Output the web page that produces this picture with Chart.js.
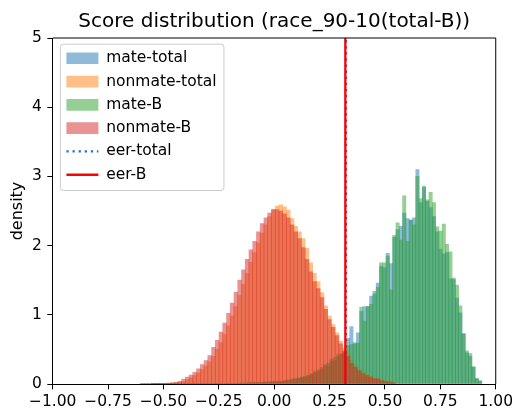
<!DOCTYPE html>
<html>
<head>
<meta charset="utf-8">
<script src="https://cdn.jsdelivr.net/npm/chart.js@4.4.1/dist/chart.umd.min.js"></script>
<style>
  body { margin: 0; background: #fff; }
</style>
</head>
<body>
<canvas id="hist" width="516" height="410"></canvas>
<script>
// HISTOGRAM BINS (left edge of first bin, bin width)
const mateStart = -0.553, mateBinW = 0.0149;
const nonmateStart = -0.604, nonmateBinW = 0.0169;

// densities, one value per bin
const mateTotal = [
  0.002, 0.002, 0.002, 0.002, 0.002, 0.002, 0.002, 0.002, 0.002, 0.002,
  0.003, 0.003, 0.003, 0.003, 0.003, 0.003, 0.004, 0.004, 0.004, 0.005,
  0.006, 0.006, 0.007, 0.009, 0.010, 0.011, 0.011, 0.012, 0.015, 0.015,
  0.017, 0.019, 0.021, 0.023, 0.027, 0.028, 0.031, 0.034, 0.03, 0.04,
  0.05, 0.05, 0.06, 0.07, 0.08, 0.09, 0.10, 0.12, 0.15, 0.19,
  0.18, 0.24, 0.28, 0.26, 0.36, 0.34, 0.43, 0.42, 0.47, 0.66,
  0.83, 0.58, 0.74, 1.05, 1.12, 1.12, 1.27, 1.34, 1.46, 1.70,
  1.68, 1.89, 1.74, 2.12, 2.23, 2.28, 2.47, 2.39, 2.37, 2.40,
  3.10, 2.62, 2.84, 2.64, 2.55, 2.42, 2.20, 1.95, 1.88, 1.90,
  1.52, 1.51, 1.24, 1.03, 0.73, 0.45, 0.40, 0.24, 0.08, 0.04
];
const mateB = [
  0.002, 0.002, 0.002, 0.002, 0.002, 0.002, 0.002, 0.002, 0.002, 0.002,
  0.004, 0.003, 0.004, 0.003, 0.004, 0.004, 0.004, 0.005, 0.004, 0.005,
  0.006, 0.007, 0.008, 0.008, 0.009, 0.010, 0.012, 0.013, 0.014, 0.016,
  0.018, 0.020, 0.022, 0.024, 0.026, 0.029, 0.032, 0.035, 0.04, 0.04,
  0.05, 0.06, 0.07, 0.08, 0.09, 0.10, 0.11, 0.12, 0.14, 0.17,
  0.20, 0.22, 0.26, 0.30, 0.33, 0.38, 0.40, 0.44, 0.45, 0.55,
  0.57, 0.60, 0.59, 1.11, 0.91, 1.12, 1.15, 1.30, 1.40, 1.75,
  1.75, 1.85, 1.36, 2.15, 2.33, 2.08, 2.72, 2.06, 2.37, 2.30,
  3.00, 2.68, 2.86, 2.66, 2.77, 2.62, 2.27, 2.21, 2.31, 2.02,
  1.91, 1.53, 1.43, 1.13, 0.72, 0.48, 0.44, 0.25, 0.08, 0.05
];
const nonmateTotal = [
  0.003, 0.003, 0.004, 0.005, 0.006, 0.007, 0.009, 0.011, 0.013, 0.016,
  0.025, 0.04, 0.06, 0.09, 0.12, 0.16, 0.21, 0.26, 0.32, 0.40,
  0.50, 0.60, 0.72, 0.84, 0.98, 1.12, 1.28, 1.44, 1.60, 1.76,
  1.90, 2.04, 2.18, 2.30, 2.42, 2.52, 2.57, 2.59, 2.56, 2.51,
  2.39, 2.28, 2.20, 2.10, 1.96, 1.75, 1.60, 1.48, 1.32, 1.13,
  0.98, 0.86, 0.74, 0.62, 0.52, 0.44, 0.34, 0.27, 0.21, 0.17,
  0.14, 0.11, 0.09, 0.08, 0.06, 0.05, 0.035, 0.025
];
const nonmateB = [
  0.004, 0.004, 0.005, 0.006, 0.008, 0.009, 0.011, 0.014, 0.018, 0.025,
  0.04, 0.07, 0.10, 0.13, 0.17, 0.22, 0.28, 0.34, 0.41, 0.53,
  0.63, 0.75, 0.88, 1.02, 1.17, 1.33, 1.50, 1.65, 1.80, 1.94,
  2.06, 2.20, 2.32, 2.40, 2.47, 2.52, 2.52, 2.50, 2.46, 2.40,
  2.30, 2.20, 2.10, 1.97, 1.80, 1.62, 1.48, 1.38, 1.25, 1.08,
  0.93, 0.82, 0.70, 0.58, 0.48, 0.40, 0.30, 0.24, 0.19, 0.15,
  0.12, 0.10, 0.08, 0.07, 0.05, 0.04, 0.03, 0.02
];

// equal error rate thresholds
const eerTotal = 0.324;
const eerB = 0.321;

function toBins(values, start, w) {
  return values.map((v, i) => ({ x: start + (i + 0.5) * w, y: v }));
}

function vline(x) {
  return [{ x: x, y: 0 }, { x: x, y: 5 }];
}

const FONT = "'DejaVu Sans', sans-serif";
Chart.defaults.font.family = FONT;
Chart.defaults.color = '#000';

// legend frame inside the axes + top/right spines
const framePlugin = {
  id: 'frame',
  afterLayout(chart) {
    const lg = chart.legend;
    const a = chart.chartArea;
    lg.left = a.left + 5.9;
    lg.top = a.top + 4.7;
    lg.right = lg.left + lg.width;
    lg.bottom = lg.top + lg.height;
  },
  beforeDraw(chart) {
    const boxes = chart.legend.legendHitBoxes;
    if (!boxes || !boxes.length) return;
    let l = Infinity, r = -Infinity;
    boxes.forEach(b => { l = Math.min(l, b.left); r = Math.max(r, b.left + b.width); });
    const t = boxes[0].top - 6.3;
    const last = boxes[boxes.length - 1];
    const bt = last.top + last.height + 8;
    const ctx = chart.ctx;
    ctx.save();
    ctx.beginPath();
    ctx.roundRect(l - 6, t, (r + 7.4) - (l - 6), bt - t, 3);
    ctx.fillStyle = 'rgba(255,255,255,0.8)';
    ctx.fill();
    ctx.strokeStyle = '#cccccc';
    ctx.lineWidth = 1;
    ctx.stroke();
    ctx.restore();
  },
  afterDatasetsDraw(chart) {
    const a = chart.chartArea;
    const ctx = chart.ctx;
    ctx.save();
    ctx.strokeStyle = '#000';
    ctx.lineWidth = 1;
    ctx.beginPath();
    ctx.moveTo(a.left, a.top);
    ctx.lineTo(a.right, a.top);
    ctx.lineTo(a.right, a.bottom);
    ctx.stroke();
    ctx.restore();
  }
};

new Chart(document.getElementById('hist'), {
  type: 'bar',
  data: {
    datasets: [
      {
        label: 'mate-total',
        data: toBins(mateTotal, mateStart, mateBinW),
        backgroundColor: 'rgba(31,119,180,0.5)',
        xAxisID: 'x',
        order: 5
      },
      {
        label: 'nonmate-total',
        data: toBins(nonmateTotal, nonmateStart, nonmateBinW),
        backgroundColor: 'rgba(255,127,14,0.5)',
        xAxisID: 'xn',
        order: 4
      },
      {
        label: 'mate-B',
        data: toBins(mateB, mateStart, mateBinW),
        backgroundColor: 'rgba(44,160,44,0.5)',
        xAxisID: 'x',
        order: 3
      },
      {
        label: 'nonmate-B',
        data: toBins(nonmateB, nonmateStart, nonmateBinW),
        backgroundColor: 'rgba(214,39,40,0.5)',
        xAxisID: 'xn',
        order: 2
      },
      {
        type: 'line',
        label: 'eer-total',
        data: vline(eerTotal),
        borderColor: '#1f77b4',
        borderWidth: 2.3,
        borderDash: [2.3, 3.8],
        pointRadius: 0,
        xAxisID: 'x',
        order: 1
      },
      {
        type: 'line',
        label: 'eer-B',
        data: vline(eerB),
        borderColor: '#ff0000',
        borderWidth: 2.3,
        pointRadius: 0,
        xAxisID: 'x',
        order: 0
      }
    ]
  },
  options: {
    responsive: false,
    animation: false,
    layout: { padding: { left: 0, right: 18.3, top: 0, bottom: 0 } },
    datasets: {
      bar: {
        grouped: false,
        categoryPercentage: 1,
        barPercentage: 1,
        borderWidth: 0
      }
    },
    plugins: {
      title: {
        display: true,
        text: 'Score distribution (race_90-10(total-B))',
        fullSize: false,
        color: '#000',
        font: { size: 20, weight: 'normal' },
        padding: { top: 9.5, bottom: 4.5 }
      },
      legend: {
        position: 'chartArea',
        align: 'start',
        labels: {
          usePointStyle: true,
          pointStyleWidth: 32,
          boxHeight: 11.7,
          padding: 7.8,
          color: '#000',
          font: { size: 15.5 },
          generateLabels: (chart) => chart.data.datasets.map((ds, i) => ({
            text: ds.label,
            fillStyle: ds.type === 'line' ? 'rgba(0,0,0,0)' : ds.backgroundColor,
            strokeStyle: ds.type === 'line' ? ds.borderColor : 'rgba(0,0,0,0)',
            lineWidth: ds.type === 'line' ? ds.borderWidth : 0,
            lineDash: ds.borderDash || [],
            pointStyle: ds.type === 'line' ? 'line' : 'rect',
            fontColor: '#000',
            hidden: false,
            datasetIndex: i
          }))
        }
      },
      tooltip: { enabled: false }
    },
    scales: {
      x: {
        type: 'linear',
        position: 'bottom',
        min: -1,
        max: 1,
        offset: false,
        grid: {
          offset: false,
          drawOnChartArea: false,
          drawTicks: true,
          tickLength: 5.4,
          tickColor: '#000'
        },
        border: { display: true, color: '#000', width: 1 },
        ticks: {
          stepSize: 0.25,
          autoSkip: false,
          maxRotation: 0,
          padding: 3,
          color: '#000',
          font: { size: 15.5 },
          callback: (v) => (Math.abs(v) < 1e-9 ? 0 : v).toFixed(2).replace('-', '\u2212')
        },
        afterFit: (s) => { s.height = 26; }
      },
      xn: {
        type: 'linear',
        display: false,
        min: -1,
        max: 1,
        offset: false
      },
      y: {
        min: 0,
        max: 5,
        grid: {
          drawOnChartArea: false,
          drawTicks: true,
          tickLength: 5.4,
          tickColor: '#000'
        },
        border: { display: true, color: '#000', width: 1 },
        ticks: {
          stepSize: 1,
          padding: 5.4,
          color: '#000',
          font: { size: 15.5 }
        },
        title: {
          display: true,
          text: 'density',
          color: '#000',
          font: { size: 16 },
          padding: { top: 8.5, bottom: 0 }
        },
        afterFit: (s) => { s.width = 52.7; }
      }
    }
  },
  plugins: [framePlugin]
});
</script>
</body>
</html>
